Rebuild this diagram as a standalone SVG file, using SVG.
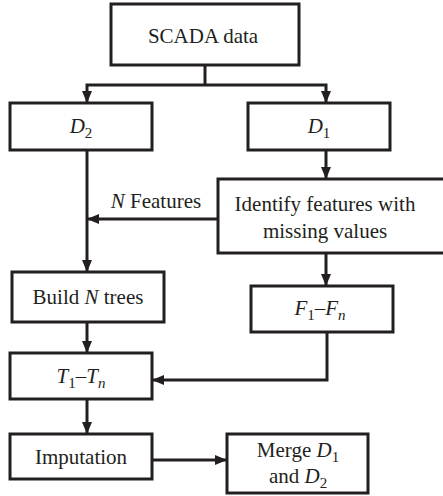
<svg xmlns="http://www.w3.org/2000/svg" width="443" height="496" viewBox="0 0 443 496">
<style>
rect{fill:#fff;stroke:#231f20;stroke-width:3}
text{font-family:"Liberation Serif","Times New Roman",serif;font-size:21px;fill:#231f20;text-anchor:middle}
.i{font-style:italic}
.s{font-size:15px}
.c path{fill:none;stroke:#231f20;stroke-width:3}
</style>
<defs>
<marker id="a" markerWidth="12" markerHeight="10" refX="11" refY="5" orient="auto" markerUnits="userSpaceOnUse">
<path d="M0,0 L12,5 L0,10 Z" fill="#231f20"/>
</marker>
</defs>
<g class="c" id="connectors">
<path d="M205,65 V85"/>
<path d="M205,85 H87 V102" marker-end="url(#a)"/>
<path d="M205,85 H326 V102" marker-end="url(#a)"/>
<path d="M326,150 V178" marker-end="url(#a)"/>
<path d="M218,219 H88" marker-end="url(#a)"/>
<path d="M87,150 V271" marker-end="url(#a)"/>
<path d="M326,253 V285" marker-end="url(#a)"/>
<path d="M87,322 V352" marker-end="url(#a)"/>
<path d="M327,332 V380 H153" marker-end="url(#a)"/>
<path d="M87,399 V433" marker-end="url(#a)"/>
<path d="M152,460 H226" marker-end="url(#a)"/>
</g>
<g id="scada"><rect x="111" y="4" width="188" height="61"/><text x="203" y="43">SCADA data</text></g>
<g id="d2"><rect x="10" y="103" width="142" height="47"/><text x="81" y="133"><tspan class="i">D</tspan><tspan class="s" dy="5">2</tspan></text></g>
<g id="d1"><rect x="248" y="103" width="142" height="47"/><text x="319" y="133"><tspan class="i">D</tspan><tspan class="s" dy="5">1</tspan></text></g>
<text x="156" y="208"><tspan class="i">N</tspan> Features</text>
<g id="identify"><rect x="218" y="179" width="230" height="74"/><text x="325" y="211">Identify features with</text><text x="325" y="238">missing values</text></g>
<g id="build"><rect x="12" y="272" width="152" height="50"/><text x="88" y="304">Build <tspan class="i">N</tspan> trees</text></g>
<g id="f"><rect x="251" y="286" width="142" height="46"/><text x="320" y="315"><tspan class="i">F</tspan><tspan class="s" dy="5">1</tspan><tspan dy="-5">–</tspan><tspan class="i">F</tspan><tspan class="s i" dy="5">n</tspan></text></g>
<g id="t"><rect x="10" y="353" width="142" height="46"/><text x="81" y="383"><tspan class="i">T</tspan><tspan class="s" dy="5">1</tspan><tspan dy="-5">–</tspan><tspan class="i">T</tspan><tspan class="s i" dy="5">n</tspan></text></g>
<g id="imputation"><rect x="10" y="434" width="142" height="45"/><text x="81" y="464">Imputation</text></g>
<g id="merge"><rect x="227" y="434" width="141" height="59"/><text x="298" y="457">Merge <tspan class="i">D</tspan><tspan class="s" dy="5">1</tspan></text><text x="298" y="483">and <tspan class="i">D</tspan><tspan class="s" dy="5">2</tspan></text></g>
</svg>
